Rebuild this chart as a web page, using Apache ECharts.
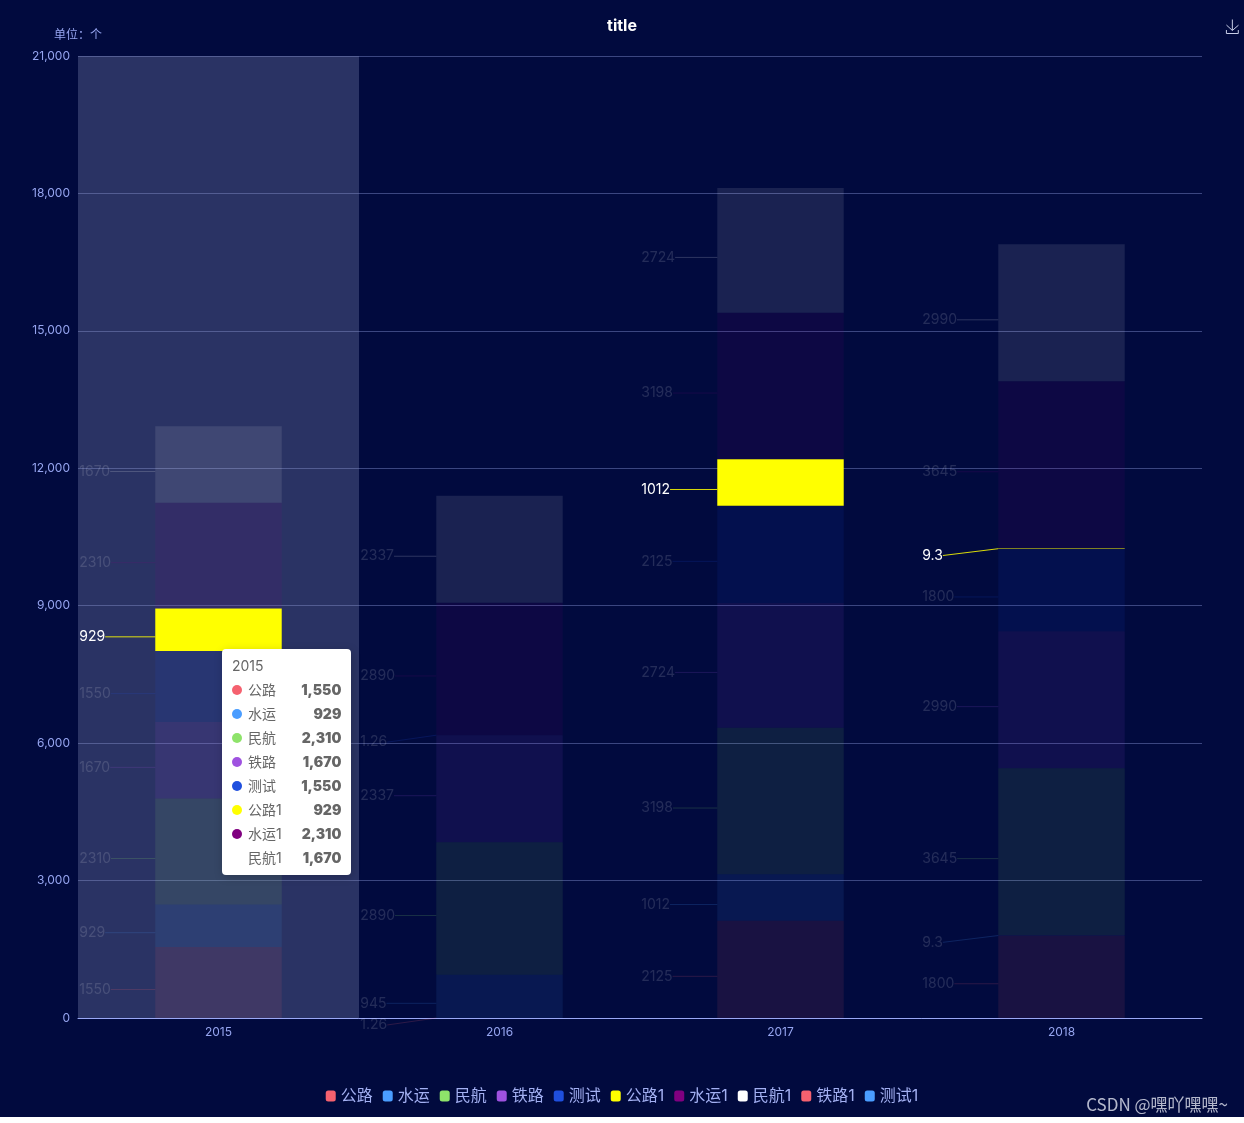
<!DOCTYPE html>
<html>
<head>
<meta charset="utf-8">
<script src="https://cdn.jsdelivr.net/npm/echarts@6/dist/echarts.min.js"></script>
<style>
html,body{margin:0;padding:0;background:#010a3e;}
#main{width:1244px;height:1123px;}
</style>
</head>
<body>
<div id="main"></div>
<script>
const categories = ['2015', '2016', '2017', '2018'];
const yTicks = { min: 0, max: 21000, interval: 3000 };

const gongLu   = [1550, 1.26, 2125, 1800];
const shuiYun  = [929, 945, 1012, 9.3];
const minHang  = [2310, 2890, 3198, 3645];
const tieLu    = [1670, 2337, 2724, 2990];
const ceShi    = [1550, 1.26, 2125, 1800];
const gongLu1  = [929, '-', 1012, 9.3];
const shuiYun1 = [2310, 2890, 3198, 3645];
const minHang1 = [1670, 2337, 2724, 2990];
const tieLu1   = [];
const ceShi1   = [];

const seriesNames = ['公路', '水运', '民航', '铁路', '测试', '公路1', '水运1', '民航1', '铁路1', '测试1'];
const seriesValues = [gongLu, shuiYun, minHang, tieLu, ceShi, gongLu1, shuiYun1, minHang1, tieLu1, ceShi1];

const colors = ['#f5616f', '#4a9dff', '#8ee36a', '#9f52e0', '#1f4fde', '#ffff00', '#800080', '#ffffff', '#f5616f', '#4a9dff'];
const highlighted = '公路1';
const FONT = 'Inter, "Noto Sans CJK SC", sans-serif';
const axisColor = '#96a5f0';

const chart = echarts.init(document.getElementById('main'));

const series = seriesNames.map((name, i) => {
  const hi = name === highlighted;
  return {
    name: name,
    type: 'bar',
    stack: 'total',
    barWidth: '45%',
    z: 3,
    data: seriesValues[i],
    itemStyle: { color: colors[i], opacity: hi ? 1 : 0.1 },
    label: {
      show: true,
      color: '#ffffff',
      opacity: hi ? 1 : 0.14,
      fontSize: 14,
      fontFamily: FONT
    },
    labelLine: {
      show: true,
      lineStyle: { color: colors[i], opacity: hi ? 0.85 : 0.18, width: 1 }
    },
    labelLayout: function (p) {
      return {
        x: p.rect.x - 76,
        y: p.rect.y + p.rect.height / 2,
        align: 'left',
        verticalAlign: 'top'
      };
    }
  };
});

const option = {
  backgroundColor: '#010a3e',
  animation: false,
  title: {
    text: 'title',
    left: 'center',
    top: 13,
    textStyle: { color: '#ffffff', fontSize: 16, fontWeight: 'bold', fontFamily: FONT }
  },
  toolbox: {
    right: -12,
    top: 2,
    itemSize: 14,
    feature: { saveAsImage: {} },
    iconStyle: { borderColor: '#c8cee8' }
  },
  tooltip: {
    trigger: 'axis',
    axisPointer: {
      type: 'shadow',
      z: 1,
      shadowStyle: { color: 'rgba(140,150,190,0.3)' }
    },
    position: [222, 649],
    alwaysShowContent: true,
    backgroundColor: '#ffffff',
    borderWidth: 0,
    padding: 10,
    textStyle: { color: '#666', fontSize: 14, fontFamily: FONT }
  },
  legend: {
    data: seriesNames,
    top: 1083,
    left: 'center',
    icon: 'roundRect',
    itemWidth: 10,
    itemHeight: 11,
    itemGap: 10,
    itemStyle: { opacity: 1 },
    textStyle: { color: '#a3b0f2', fontSize: 16, fontFamily: FONT }
  },
  grid: { left: 78, right: 42, top: 56, bottom: 105, containLabel: false },
  xAxis: {
    type: 'category',
    data: categories,
    axisLine: { lineStyle: { color: '#9aa8f5' } },
    axisTick: { show: false },
    axisLabel: { color: axisColor, fontSize: 12, fontFamily: FONT }
  },
  yAxis: {
    type: 'value',
    name: '单位：个',
    nameTextStyle: { color: axisColor, fontSize: 12, fontFamily: FONT },
    min: yTicks.min,
    max: yTicks.max,
    interval: yTicks.interval,
    axisLine: { show: false },
    axisTick: { show: false },
    axisLabel: { color: axisColor, fontSize: 12, fontFamily: FONT },
    splitLine: { lineStyle: { color: '#3b4680' } }
  },
  graphic: [
    {
      type: 'text',
      right: 16,
      bottom: 10,
      style: {
        text: 'CSDN @嘿吖嘿嘿~',
        fill: 'rgba(225,228,240,0.8)',
        font: '17px "Noto Sans CJK SC", sans-serif'
      }
    },
    {
      type: 'rect',
      left: 0,
      bottom: 0,
      shape: { width: 1244, height: 6 },
      style: { fill: '#ffffff' }
    }
  ],
  series: series
};

chart.setOption(option);
chart.dispatchAction({ type: 'showTip', seriesIndex: 0, dataIndex: 0 });
</script>
</body>
</html>
